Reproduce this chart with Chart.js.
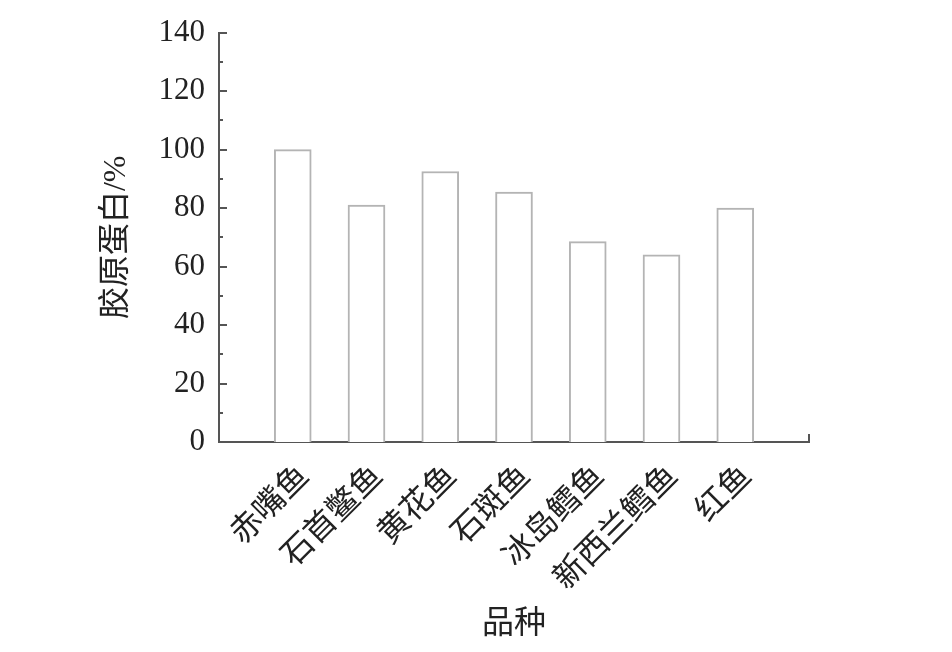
<!DOCTYPE html>
<html>
<head>
<meta charset="utf-8">
<script src="https://cdn.jsdelivr.net/npm/chart.js@4/dist/chart.umd.min.js"></script>
<style>
  body { margin: 0; background: #fff; }
  canvas { display: block; }
</style>
</head>
<body>
<canvas id="chart" width="952" height="652"></canvas>
<script>
// 品种与胶原蛋白含量
const categories = ["赤嘴鱼", "石首鳖鱼", "黄花鱼", "石斑鱼", "冰岛鳕鱼", "新西兰鳕鱼", "红鱼"];
const collagen = [100, 81, 92.5, 85.5, 68.5, 64, 80];
const yMin = 0;
const yMax = 140;
const yStep = 20;

const serif = '"Liberation Serif", "Noto Sans CJK SC", serif';

// 轴两端各留一个空位，使柱子位置与原图一致
const labels = [""].concat(categories, [""]);
const values = [null].concat(collagen, [null]);

// 向内的刻度线
const innerTicks = {
    id: "innerTicks",
    afterDraw(chart) {
        const ctx = chart.ctx;
        const y = chart.scales.y;
        const x = chart.scales.x;
        const left = chart.chartArea.left;
        const bottom = chart.chartArea.bottom;
        ctx.save();
        ctx.strokeStyle = "#555";
        ctx.lineWidth = 2;
        for (let v = yMin; v <= yMax; v += yStep / 2) {
            const py = Math.round(y.getPixelForValue(v));
            const len = v % yStep === 0 ? 8 : 4;
            ctx.beginPath();
            ctx.moveTo(left, py);
            ctx.lineTo(left + len, py);
            ctx.stroke();
        }
        const px = x.getPixelForValue(labels.length - 1);
        ctx.beginPath();
        ctx.moveTo(px, bottom);
        ctx.lineTo(px, bottom - 8);
        ctx.stroke();
        ctx.restore();
    }
};

function draw() {
    new Chart(document.getElementById("chart"), {
        type: "bar",
        data: {
            labels: labels,
            datasets: [{
                data: values,
                backgroundColor: "#ffffff",
                borderColor: "#b4b4b4",
                borderWidth: 2,
                barThickness: 37
            }]
        },
        options: {
            responsive: false,
            devicePixelRatio: 1,
            animation: false,
            layout: { padding: { left: 93, right: 143, top: 30, bottom: 8 } },
            plugins: { legend: { display: false }, tooltip: { enabled: false } },
            scales: {
                x: {
                    offset: false,
                    grid: { display: false, drawTicks: false },
                    border: { display: true, color: "#555", width: 2 },
                    ticks: {
                        autoSkip: false,
                        minRotation: 45,
                        maxRotation: 45,
                        padding: 16,
                        labelOffset: 12,
                        color: "#222",
                        font: { family: serif, size: 32 }
                    },
                    title: {
                        display: true,
                        text: "品种",
                        color: "#222",
                        padding: 0,
                        font: { family: serif, size: 32 }
                    },
                    afterFit(scale) { scale.height = 202; }
                },
                y: {
                    min: yMin,
                    max: yMax,
                    grid: { display: false, drawTicks: false },
                    border: { display: true, color: "#555", width: 2 },
                    ticks: {
                        stepSize: yStep,
                        padding: 14,
                        color: "#222",
                        font: { family: serif, size: 31 }
                    },
                    title: {
                        display: true,
                        text: "胶原蛋白/%",
                        color: "#222",
                        padding: 4,
                        font: { family: serif, size: 32 }
                    },
                    afterFit(scale) { scale.width = 126; }
                }
            }
        },
        plugins: [innerTicks]
    });
}

Promise.all([
    document.fonts.load('31px "Liberation Serif"'),
    document.fonts.load('32px "Noto Sans CJK SC"', "品种")
]).then(draw, draw);
</script>
</body>
</html>
